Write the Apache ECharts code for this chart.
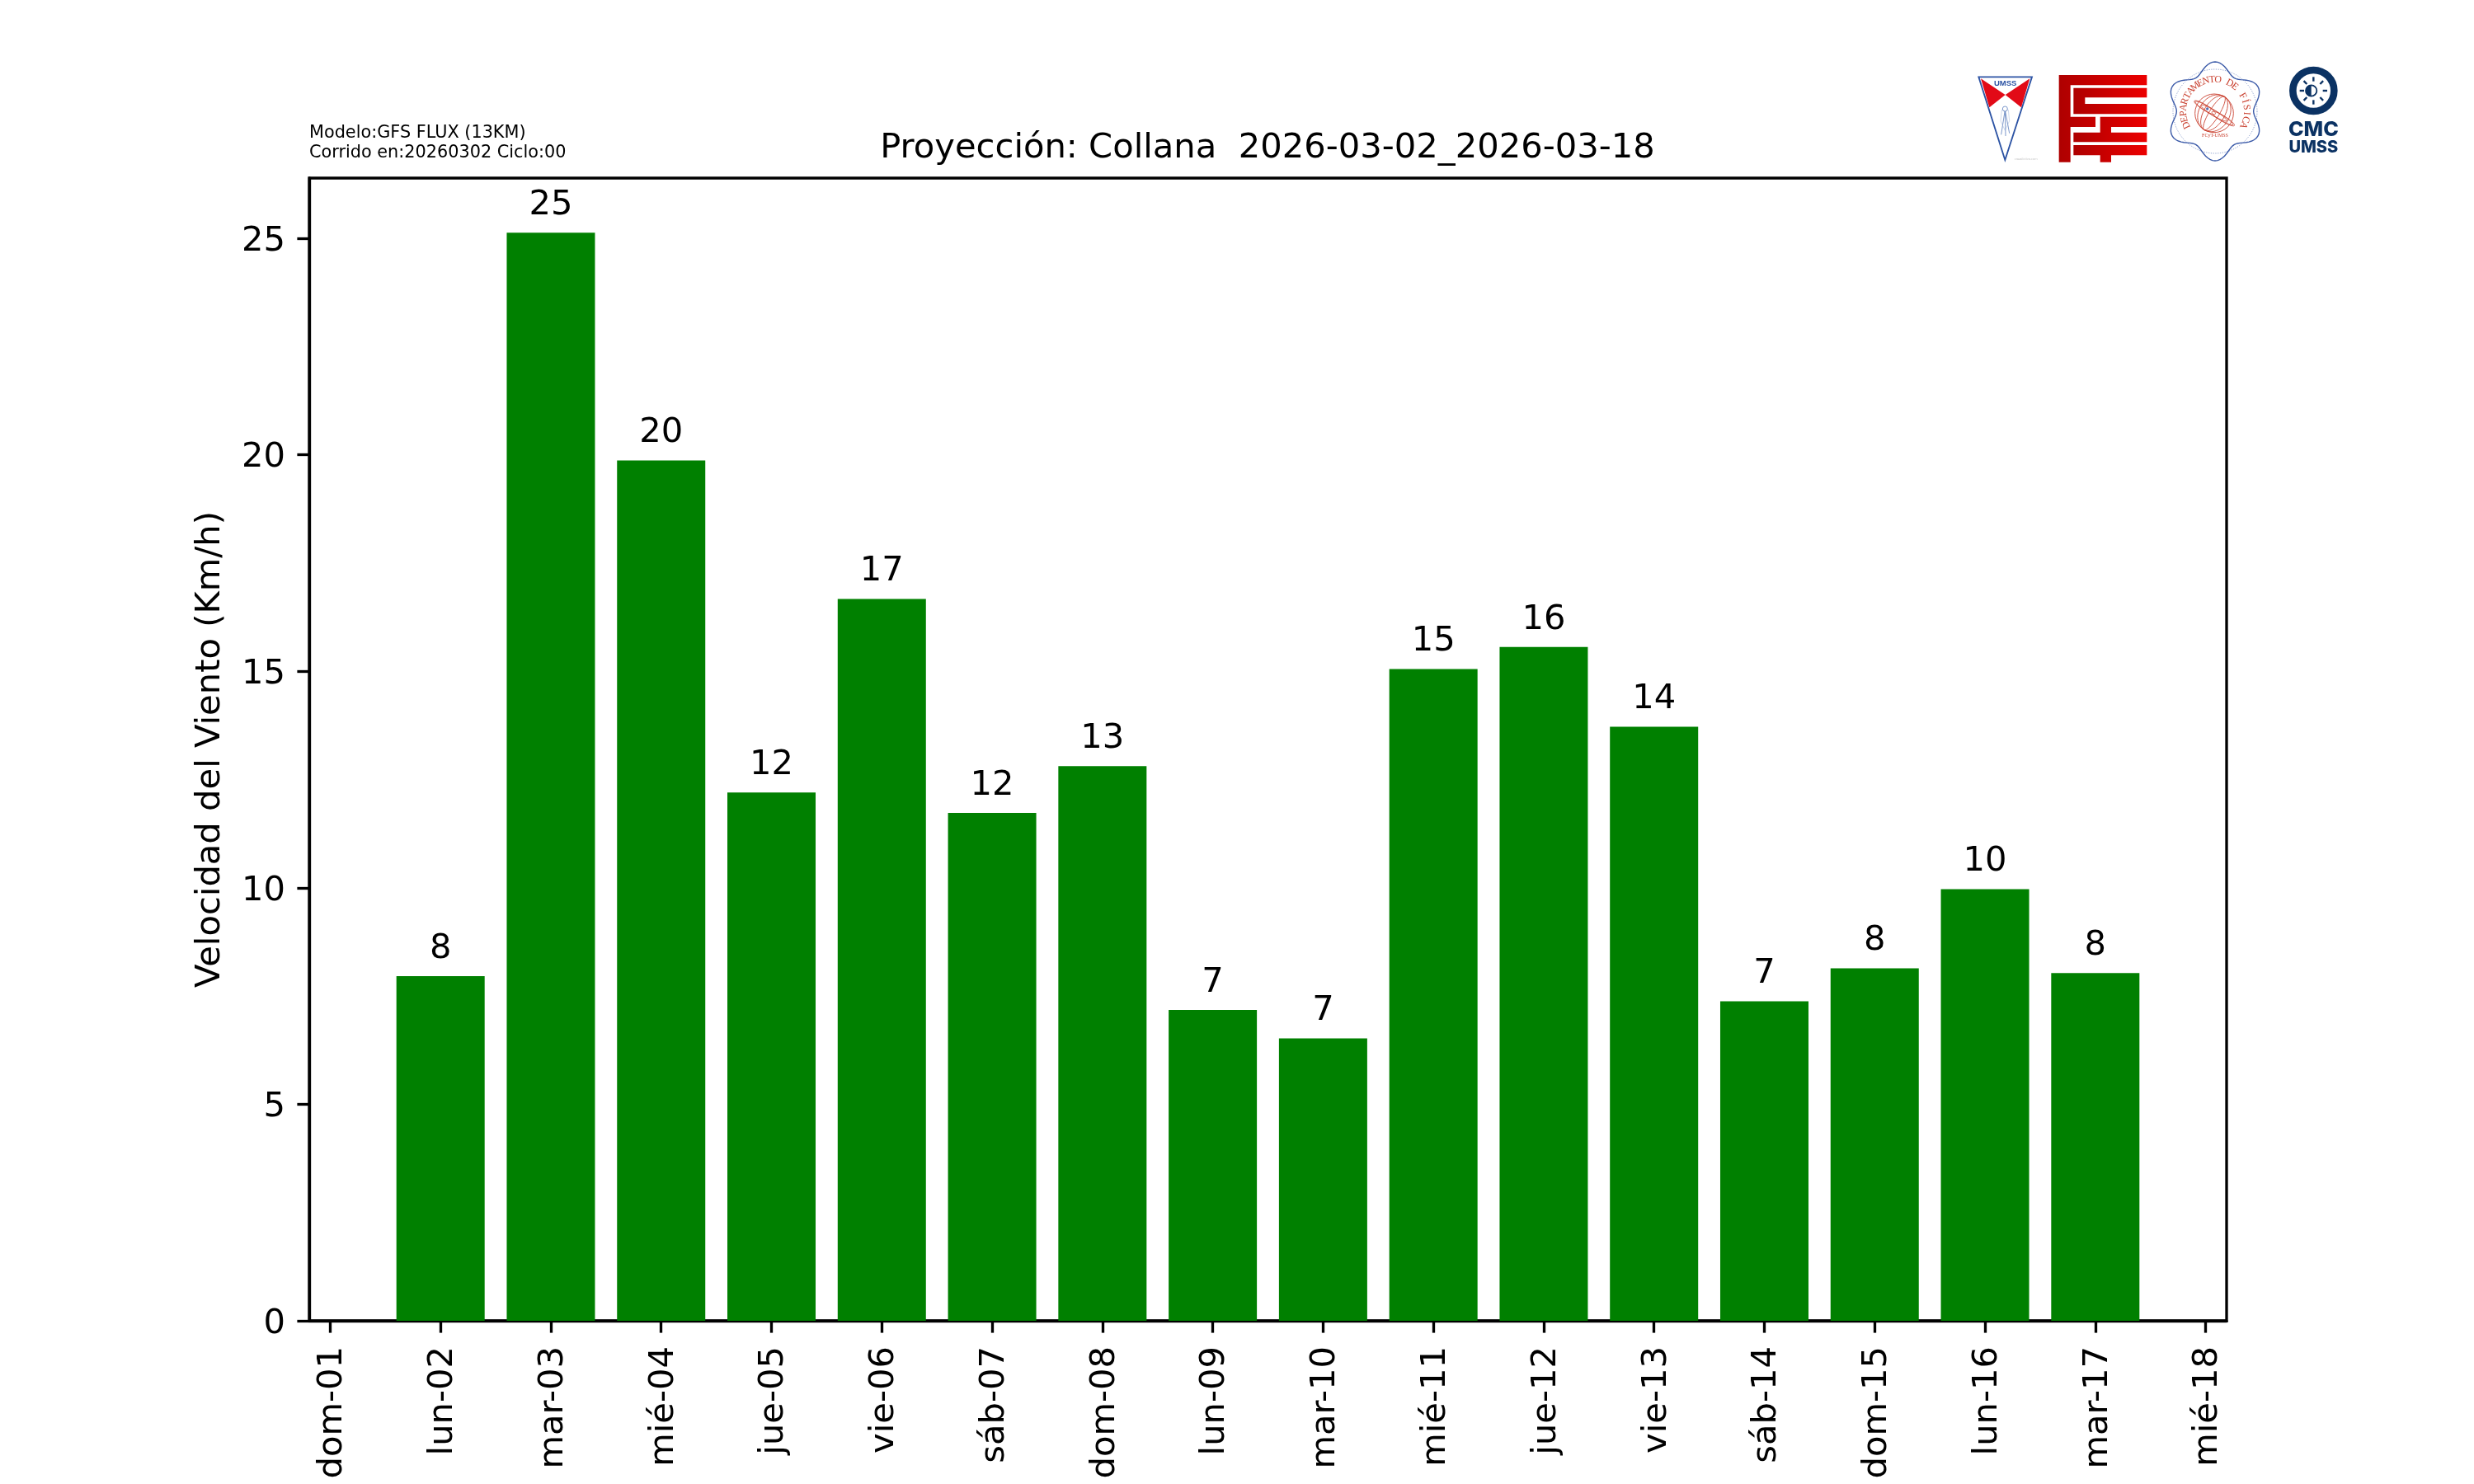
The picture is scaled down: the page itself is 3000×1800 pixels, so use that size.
<!DOCTYPE html>
<html>
<head>
<meta charset="utf-8">
<style>html,body{margin:0;padding:0;background:#fff}#c{width:3000px;height:1800px}</style>
<script src="https://cdn.jsdelivr.net/npm/echarts@6/dist/echarts.min.js"></script>
</head>
<body>
<div id="c"></div>
<script>
const xTickDays = [1,2,3,4,5,6,7,8,9,10,11,12,13,14,15,16,17,18];
const xTickLabels = ['dom-01','lun-02','mar-03','mié-04','jue-05','vie-06','sáb-07','dom-08','lun-09','mar-10','mié-11','jue-12','vie-13','sáb-14','dom-15','lun-16','mar-17','mié-18'];
const barDays = [2,3,4,5,6,7,8,9,10,11,12,13,14,15,16,17];
const windSpeeds = [7.96,25.13,19.87,12.2,16.67,11.73,12.81,7.18,6.52,15.05,15.56,13.72,7.38,8.14,9.97,8.03];
const yTicks = [0,5,10,15,20,25];
const titleText = 'Proyección: Collana  2026-03-02_2026-03-18';
const yAxisTitle = 'Velocidad del Viento (Km/h)';
const noteText = 'Modelo:GFS FLUX (13KM)\nCorrido en:20260302 Ciclo:00';

const FONT = '"DejaVu Sans"';
const FS = 41.67;
const LW = 3.33;

// Logo decoration, in zoom-crop units
const zx = x => 2350 + x / 3, zy = y => 50 + y / 3, zs = v => v / 3;
const P = pts => pts.map(p => [zx(p[0]), zy(p[1])]);
const logos = [];
const BLUE = '#2b52a3', RED = '#e20a17', NAVY = '#0b3263', SEAL = '#c9402f';
function poly(pts, fill, stroke, lw) {
  logos.push({type:'polygon', silent:true, shape:{points:P(pts)}, style:{fill:fill||'none', stroke:stroke||'none', lineWidth:lw||0}});
}
function line(pts, stroke, lw) {
  logos.push({type:'polyline', silent:true, shape:{points:P(pts)}, style:{fill:'none', stroke:stroke, lineWidth:lw}});
}
function circ(x, y, r, fill, stroke, lw, dash) {
  logos.push({type:'circle', silent:true, shape:{cx:zx(x), cy:zy(y), r:zs(r)}, style:{fill:fill||'none', stroke:stroke||'none', lineWidth:lw||0, lineDash:dash||null}});
}
function txt(x, y, s, size, weight, fill, family, rot) {
  logos.push({type:'text', silent:true, x:zx(x), y:zy(y), rotation:rot||0,
    style:{text:s, fontSize:size, fontWeight:weight, fontFamily:family||FONT, fill:fill, align:'center', verticalAlign:'middle'}});
}
// UMSS shield
poly([[148,130],[342,130],[244,432]], '#fff', BLUE, 1.8);
poly([[156,136],[245,195],[187,241]], RED);
poly([[334,136],[245,195],[303,241]], RED);
txt(245,153,'UMSS',9.5,'bold',BLUE,'"Liberation Sans"');
line([[244,250],[230,340]],'#5c7dbc',0.8);
line([[244,250],[246,345]],'#5c7dbc',0.8);
line([[244,250],[260,335]],'#5c7dbc',0.8);
line([[232,250],[228,290],[244,325],[260,290],[256,250],[232,250]],'#9db2d8',0.5);
circ(244,246,9,'#fff','#5c7dbc',0.8);
txt(320,430,'creadictivo.com',3.5,'normal','#c4c4c4');
// FCyT block
const grad = {type:'linear',x:0,y:0,x2:1,y2:0,colorStops:[{offset:0,color:'#ae0000'},{offset:1,color:'#ec0000'}]};
poly([[440,123],[760,123],[760,160],[482,160],[482,275],[573,275],[573,312],[482,312],[482,440],[440,440]], grad);
poly([[493,170],[760,170],[760,205],[535,205],[535,228],[760,228],[760,265],[493,265]], grad);
poly([[590,275],[760,275],[760,312],[630,312],[630,332],[760,332],[760,367],[493,367],[493,332],[590,332]], grad);
poly([[493,378],[760,378],[760,415],[630,415],[630,440],[590,440],[590,415],[493,415]], grad);
// Departamento de Física seal
const sealCx = 1008, sealCy = 255, outline = [];
for (let a = 0; a < 360; a += 3) {
  const t = a * Math.PI / 180;
  const r = 160 + 20 * Math.cos(6 * t);
  outline.push([sealCx + r * Math.sin(t), sealCy - r * Math.cos(t)]);
}
poly(outline, '#fff', '#3b5aa8', 1.4);
circ(sealCx, sealCy, 153, 'none', '#5570b5', 0.7, [1.2,1.6]);
const sealWord = 'DEPARTAMENTO DE FÍSICA';
sealWord.split('').forEach((ch, i) => {
  const ang = (-116 + 232 * i / (sealWord.length - 1)) * Math.PI / 180;
  const r = 115;
  txt(sealCx + r * Math.sin(ang), sealCy - r * Math.cos(ang), ch, 12, 'normal', SEAL, '"Liberation Serif"', -ang);
});
txt(1008,342,'FCyT-UMSS',6,'normal',SEAL,'"Liberation Serif"');
circ(1005,262,70,'none',SEAL,0.9);
[18,38,56].forEach(rx => logos.push({type:'ellipse', silent:true, x:zx(1005), y:zy(262), rotation:-0.55,
  shape:{cx:0,cy:0,rx:zs(rx),ry:zs(71)}, style:{fill:'none',stroke:SEAL,lineWidth:0.8}}));
[-40,-14,12,38].forEach(d => logos.push({type:'ellipse', silent:true, x:zx(1005), y:zy(262), rotation:-0.55,
  shape:{cx:d/3,cy:0,rx:zs(Math.sqrt(4900-d*d*1.8)),ry:zs(10)}, style:{fill:'none',stroke:SEAL,lineWidth:0.7}}));
circ(980,246,5,'#5570b5');
// CMC UMSS mark
circ(1366,180,75,'#fff',NAVY,8.6);
for (let a = 0; a < 360; a += 45) {
  const t = a * Math.PI / 180;
  line([[1366+34*Math.sin(t),180-34*Math.cos(t)],[1366+50*Math.sin(t),180-50*Math.cos(t)]],NAVY,2.4);
}
circ(1358,180,20,'#fff',NAVY,1.8);
logos.push({type:'sector', silent:true, shape:{cx:zx(1358),cy:zy(180),r:zs(20),r0:0,startAngle:Math.PI/2,endAngle:Math.PI*1.5}, style:{fill:NAVY}});
txt(1366,323,'CMC',25,800,NAVY,'Inter');
txt(1366,386,'UMSS',20,800,NAVY,'Inter');

const chart = echarts.init(document.getElementById('c'), null, {renderer:'canvas', width:3000, height:1800});
chart.setOption({
  animation:false,
  backgroundColor:'#fff',
  textStyle:{fontFamily:FONT},
  title:{text:titleText, left:1532, top:154, textAlign:'center',
    textStyle:{fontFamily:FONT, fontSize:FS, fontWeight:'normal', color:'#000'}},
  graphic:{elements:[
    {type:'text', silent:true, x:375, y:150, style:{text:noteText, fontFamily:FONT, fontSize:20.8, lineHeight:23.5, fill:'#000'}},
    ...logos
  ]},
  grid:{left:375, right:300, top:216, bottom:198, show:true, borderColor:'#000', borderWidth:LW, backgroundColor:'transparent'},
  xAxis:{
    type:'value', min:0.81, max:18.19, splitLine:{show:false},
    axisLine:{show:true, onZero:false, lineStyle:{color:'#000', width:LW}},
    axisTick:{show:true, length:14.6, customValues:xTickDays, lineStyle:{color:'#000', width:LW}},
    axisLabel:{show:true, customValues:xTickDays, rotate:90, margin:31, verticalAlign:'top', lineHeight:6, fontFamily:FONT, fontSize:FS, color:'#000',
      formatter:v => xTickLabels[xTickDays.indexOf(v)]}
  },
  yAxis:{
    type:'value', min:0, max:26.39, splitLine:{show:false},
    name:yAxisTitle, nameLocation:'middle', nameGap:99, nameRotate:90,
    nameTextStyle:{fontFamily:FONT, fontSize:FS, color:'#000'},
    axisLine:{show:true, lineStyle:{color:'#000', width:LW}},
    axisTick:{show:true, length:14.6, customValues:yTicks, lineStyle:{color:'#000', width:LW}},
    axisLabel:{show:true, customValues:yTicks, margin:29, verticalAlign:'top', lineHeight:8, fontFamily:FONT, fontSize:FS, color:'#000'}
  },
  series:[{
    type:'bar', barWidth:107, itemStyle:{color:'#008000'},
    data:barDays.map((d,i)=>[d, windSpeeds[i]]),
    label:{show:true, position:'top', distance:12, fontFamily:FONT, fontSize:FS, color:'#000',
      formatter:p => String(Math.round(p.value[1]))}
  }]
});
</script>
</body>
</html>
